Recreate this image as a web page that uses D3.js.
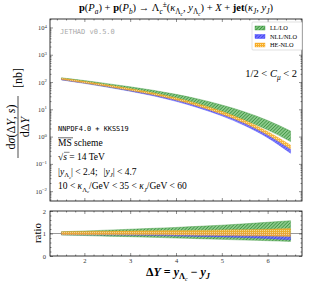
<!DOCTYPE html>
<html lang="en">
<head>
<meta charset="UTF-8">
<title>Lambda_c + jet rapidity distance</title>
<script src="https://d3js.org/d3.v7.min.js"></script>
<style>
  body { margin: 0; padding: 0; background: #fff; }
  svg { display: block; }
  text { font-family: "Liberation Serif", "DejaVu Serif", serif; fill: #000; }
  .tick text { font-size: 6.5px; fill: #333; }
</style>
</head>
<body>
<svg id="chart" width="309" height="282"></svg>
<script>
// data
const deltaY = [1.5, 2, 2.5, 3, 3.5, 4, 4.5, 5, 5.5, 6, 6.5];

// central values [nb]
const llCentral  = [132, 102, 76, 56, 40.5, 27.8, 17.8, 10.5, 5.6, 2.6, 1.02];
const nllCentral = [126, 95, 70, 50, 34.5, 22.1, 12.9, 6.8, 3.1, 1.17, 0.34];
const heCentral  = [129, 97, 72, 52, 36, 23.4, 13.8, 7.3, 3.4, 1.29, 0.40];

// scale-variation bands, as ratio to central value
const llRatioHi  = [1.08, 1.11, 1.15, 1.19, 1.23, 1.27, 1.32, 1.37, 1.43, 1.50, 1.57];
const llRatioLo  = [0.93, 0.91, 0.88, 0.86, 0.83, 0.80, 0.77, 0.74, 0.71, 0.68, 0.65];
const nllRatioHi = [1.05, 1.05, 1.05, 1.04, 1.04, 1.04, 1.03, 1.03, 1.03, 1.02, 1.02];
const nllRatioLo = [0.95, 0.94, 0.93, 0.92, 0.91, 0.89, 0.87, 0.85, 0.82, 0.78, 0.72];
const heRatioHi  = [1.08, 1.09, 1.10, 1.11, 1.12, 1.13, 1.14, 1.16, 1.17, 1.19, 1.22];
const heRatioLo  = [0.95, 0.95, 0.95, 0.94, 0.94, 0.93, 0.92, 0.91, 0.90, 0.89, 0.87];

const xTicks = [2, 3, 4, 5, 6];
const yTickExps = [-2, -1, 0, 1, 2, 3, 4];
const ratioTicks = [0, 1, 2];
const legendLabels = ["LL/LO", "NLL/NLO", "HE-NLO"];

const svg = d3.select("#chart");

// layout
const L = 50, R = 302;
const mainTop = 19, mainBot = 201;
const ratTop = 211, ratBot = 256;

const x = d3.scaleLinear().domain([1.25, 6.75]).range([L, R]);
const y = d3.scaleLog().domain([Math.pow(10, -2.36), Math.pow(10, 4.31)]).range([mainBot, mainTop]);
const yr = d3.scaleLinear().domain([0, 2]).range([ratBot, ratTop]);

// patterns for the hatched bands
const defs = svg.append("defs");
function hatch(id, bg, fg, w) {
  const p = defs.append("pattern").attr("id", id)
    .attr("patternUnits", "userSpaceOnUse").attr("width", 2.4).attr("height", 2.4)
    .attr("patternTransform", "rotate(45)");
  p.append("rect").attr("width", 2.4).attr("height", 2.4).attr("fill", bg);
  p.append("line").attr("x1", 0).attr("y1", 0).attr("x2", 0).attr("y2", 2.4)
    .attr("stroke", fg).attr("stroke-width", w);
}
hatch("pGreen", "#86c886", "#17781b", 1.1);
hatch("pBlue", "#7272ff", "#2424e0", 1.0);
const po = defs.append("pattern").attr("id", "pOrange")
  .attr("patternUnits", "userSpaceOnUse").attr("width", 2).attr("height", 2);
po.append("rect").attr("width", 2).attr("height", 2).attr("fill", "#f7ae2a");
po.append("rect").attr("width", 1).attr("height", 1).attr("fill", "#ffe09a");

const series = [
  { name: legendLabels[0], c: llCentral, hi: llRatioHi, lo: llRatioLo, fill: "url(#pGreen)", edge: "#2f8f2f", op: 0.95 },
  { name: legendLabels[1], c: nllCentral, hi: nllRatioHi, lo: nllRatioLo, fill: "url(#pBlue)", edge: "#3a3aff", op: 0.9 },
  { name: legendLabels[2], c: heCentral, hi: heRatioHi, lo: heRatioLo, fill: "url(#pOrange)", edge: "#f5a623", op: 0.9 }
];

// main panel bands
series.forEach(s => {
  const pts = deltaY.map((d, i) => ({ x: d, lo: s.c[i] * s.lo[i], hi: s.c[i] * s.hi[i] }));
  const area = d3.area().curve(d3.curveMonotoneX)
    .x(d => x(d.x)).y0(d => y(d.lo)).y1(d => y(d.hi));
  svg.append("path").datum(pts).attr("d", area)
    .attr("fill", s.fill).attr("stroke", s.edge).attr("stroke-width", 0.4).attr("opacity", s.op);
});

// ratio panel
svg.append("line").attr("x1", L).attr("x2", R).attr("y1", yr(1)).attr("y2", yr(1))
  .attr("stroke", "#9a9a9a").attr("stroke-width", 1);
series.forEach(s => {
  const pts = deltaY.map((d, i) => ({ x: d, lo: s.lo[i], hi: s.hi[i] }));
  const area = d3.area().curve(d3.curveMonotoneX)
    .x(d => x(d.x)).y0(d => yr(d.lo)).y1(d => yr(d.hi));
  svg.append("path").datum(pts).attr("d", area)
    .attr("fill", s.fill).attr("stroke", s.edge).attr("stroke-width", 0.4).attr("opacity", s.op);
});

// axes with inward ticks on every side
const xMinor = d3.range(1.4, 6.75, 0.2).filter(v => Math.abs(v - Math.round(v)) > 0.01);
const yMinor = [];
for (let e = -3; e <= 4; e++) for (let k = 2; k <= 9; k++) {
  const v = k * Math.pow(10, e);
  if (v > y.domain()[0] && v < y.domain()[1]) yMinor.push(v);
}
const rMinor = d3.range(0.2, 2, 0.2).filter(v => Math.abs(v - 1) > 0.01);

function xAxes(top, bot, labels) {
  svg.append("g").attr("transform", `translate(0,${bot})`)
    .call(d3.axisBottom(x).tickValues(xTicks).tickSize(-3).tickPadding(2)
      .tickFormat(labels ? d3.format("d") : ""));
  svg.append("g").attr("transform", `translate(0,${bot})`)
    .call(d3.axisBottom(x).tickValues(xMinor).tickSize(-1.5).tickFormat(""));
  svg.append("g").attr("transform", `translate(0,${top})`)
    .call(d3.axisTop(x).tickValues(xTicks).tickSize(-3).tickFormat(""));
  svg.append("g").attr("transform", `translate(0,${top})`)
    .call(d3.axisTop(x).tickValues(xMinor).tickSize(-1.5).tickFormat(""));
}
xAxes(mainTop, mainBot, false);
xAxes(ratTop, ratBot, true);

const yAx = svg.append("g").attr("transform", `translate(${L},0)`)
  .call(d3.axisLeft(y).tickValues(yTickExps.map(e => Math.pow(10, e))).tickSize(-3).tickPadding(3)
    .tickFormat(""));
yAx.selectAll(".tick text").each(function(d) {
  const t = d3.select(this);
  const e = Math.round(Math.log10(d));
  t.append("tspan").text("10");
  t.append("tspan").attr("dy", -2.5).attr("font-size", 4.8).text(e < 0 ? "\u2212" + (-e) : e);
});
svg.append("g").attr("transform", `translate(${L},0)`)
  .call(d3.axisLeft(y).tickValues(yMinor).tickSize(-1.5).tickFormat(""));
svg.append("g").attr("transform", `translate(${R},0)`)
  .call(d3.axisRight(y).tickValues(yTickExps.map(e => Math.pow(10, e))).tickSize(-3).tickFormat(""));
svg.append("g").attr("transform", `translate(${R},0)`)
  .call(d3.axisRight(y).tickValues(yMinor).tickSize(-1.5).tickFormat(""));

svg.append("g").attr("transform", `translate(${L},0)`)
  .call(d3.axisLeft(yr).tickValues(ratioTicks).tickSize(-3).tickPadding(4).tickFormat(d3.format("d")));
svg.append("g").attr("transform", `translate(${L},0)`)
  .call(d3.axisLeft(yr).tickValues(rMinor).tickSize(-1.5).tickFormat(""));
svg.append("g").attr("transform", `translate(${R},0)`)
  .call(d3.axisRight(yr).tickValues(ratioTicks).tickSize(-3).tickFormat(""));
svg.append("g").attr("transform", `translate(${R},0)`)
  .call(d3.axisRight(yr).tickValues(rMinor).tickSize(-1.5).tickFormat(""));

svg.selectAll(".domain").remove();
svg.selectAll(".tick line").attr("stroke", "#222").attr("stroke-width", 0.5);

// frames
[[mainTop, mainBot], [ratTop, ratBot]].forEach(([t, b]) => {
  svg.append("rect").attr("x", L).attr("y", t).attr("width", R - L).attr("height", b - t)
    .attr("fill", "none").attr("stroke", "#000").attr("stroke-width", 0.8);
});

// rich text helper: segments [text, {i, b, sub, sup, dx}]
function rich(g, segs, size) {
  let cur = 0;
  segs.forEach(([txt, o = {}]) => {
    const shift = o.sub === 2 ? size * 0.45 : o.sub ? size * 0.28 : o.sup ? -size * 0.4 : 0;
    const fs = (o.sub || o.sup) ? size * (o.sub === 2 ? 0.5 : 0.7) : size;
    const ts = g.append("tspan").attr("dy", shift - cur).attr("font-size", fs)
      .attr("font-style", o.i ? "italic" : "normal")
      .attr("font-weight", o.b ? "bold" : "normal").text(txt);
    if (o.dx) ts.attr("dx", o.dx);
    cur = shift;
  });
  return g;
}

// title
rich(svg.append("text").attr("x", 176).attr("y", 11).attr("text-anchor", "middle"), [
  ["p", { b: 1 }], ["("], ["P", { i: 1 }], ["a", { i: 1, sub: 1 }], [") + "],
  ["p", { b: 1 }], ["("], ["P", { i: 1 }], ["b", { i: 1, sub: 1 }], [") \u2192 \u039b"],
  ["c", { i: 1, sub: 1 }], ["\u00b1", { sup: 1 }], ["("], ["\u03ba", { i: 1 }],
  ["\u039b", { sub: 1 }], ["c", { i: 1, sub: 2 }], [", "], ["y", { i: 1 }], ["\u039b", { sub: 1 }],
  ["c", { i: 1, sub: 2 }], [") + "], ["X", { i: 1 }], [" + "], ["jet", { b: 1 }], ["("],
  ["\u03ba", { i: 1 }], ["J", { i: 1, sub: 1 }], [", "], ["y", { i: 1 }], ["J", { i: 1, sub: 1 }], [")"]
], 10.5);

// version tag
svg.append("text").attr("x", 60).attr("y", 34)
  .style("font-family", "'DejaVu Sans Mono', monospace").style("font-size", "7px")
  .style("fill", "#aaa").text("JETHAD v0.5.0");

// legend
const lg = svg.append("g");
lg.append("rect").attr("x", 252).attr("y", 22).attr("width", 50).attr("height", 28)
  .attr("fill", "#fff").attr("stroke", "#ccc").attr("stroke-width", 0.6).attr("rx", 1);
series.forEach((s, i) => {
  const yy = 28 + i * 8.5;
  lg.append("rect").attr("x", 255).attr("y", yy - 2).attr("width", 10).attr("height", 4)
    .attr("fill", s.fill).attr("stroke", s.edge).attr("stroke-width", 0.4);
  lg.append("text").attr("x", 270).attr("y", yy + 2).style("font-size", "6.3px").text(s.name);
});

// scale range
rich(svg.append("text").attr("x", 297).attr("y", 77).attr("text-anchor", "end"), [
  ["1/2 < "], ["C", { i: 1 }], ["\u03bc", { i: 1, sub: 1 }], [" < 2"]
], 10.5);

// kinematic notes
const notes = svg.append("g");
notes.append("text").attr("x", 58).attr("y", 131)
  .style("font-family", "'DejaVu Sans Mono', monospace").style("font-size", "6.9px")
  .text("NNPDF4.0 + KKSS19");
notes.append("text").attr("x", 58).attr("y", 145.5).style("font-size", "9.5px").text("MS scheme");
notes.append("line").attr("x1", 58).attr("x2", 73).attr("y1", 137.8).attr("y2", 137.8)
  .attr("stroke", "#000").attr("stroke-width", 0.6);
rich(notes.append("text").attr("x", 58).attr("y", 160), [
  ["\u221a"], ["s", { i: 1 }], [" = 14 TeV"]
], 9.5);
notes.append("line").attr("x1", 64).attr("x2", 69.5).attr("y1", 152.3).attr("y2", 152.3)
  .attr("stroke", "#000").attr("stroke-width", 0.5);
rich(notes.append("text").attr("x", 58).attr("y", 174.5), [
  ["|"], ["y", { i: 1 }], ["\u039b", { sub: 1 }], ["c", { i: 1, sub: 2 }], ["| < 2.4;"],
  ["|", { dx: 6 }], ["y", { i: 1 }], ["J", { i: 1, sub: 1 }], ["| < 4.7"]
], 9.5);
rich(notes.append("text").attr("x", 58).attr("y", 189), [
  ["10 < "], ["\u03ba", { i: 1 }], ["\u039b", { sub: 1 }], ["c", { i: 1, sub: 2 }], ["/GeV < 35 < "],
  ["\u03ba", { i: 1 }], ["J", { i: 1, sub: 1 }], ["/GeV < 60"]
], 9.5);

// y label: fraction
const yl = svg.append("g").attr("transform", "translate(18,127) rotate(-90)");
rich(yl.append("text").attr("x", 0).attr("y", -3.5).attr("text-anchor", "middle"), [
  ["d"], ["\u03c3", { i: 1 }], ["(\u0394"], ["Y", { i: 1 }], [", "], ["s", { i: 1 }], [")"]
], 12);
yl.append("line").attr("x1", -31).attr("x2", 31).attr("y1", 0).attr("y2", 0)
  .attr("stroke", "#000").attr("stroke-width", 0.7);
rich(yl.append("text").attr("x", 0).attr("y", 10.5).attr("text-anchor", "middle"), [
  ["d\u0394"], ["Y", { i: 1 }]
], 12);
yl.append("text").attr("x", 49).attr("y", 4).attr("text-anchor", "middle")
  .style("font-size", "12px").text("[nb]");

// ratio label
svg.append("text").attr("transform", "translate(41,233) rotate(-90)")
  .attr("text-anchor", "middle").style("font-size", "11px").text("ratio");

// x label
rich(svg.append("text").attr("x", 178).attr("y", 276).attr("text-anchor", "middle")
  .attr("font-weight", "bold"), [
  ["\u0394", { b: 1 }], ["Y", { i: 1, b: 1 }], [" = ", { b: 1 }], ["y", { i: 1, b: 1 }],
  ["\u039b", { sub: 1, b: 1 }], ["c", { i: 1, sub: 2 }], [" \u2212 ", { b: 1 }], ["y", { i: 1, b: 1 }],
  ["J", { i: 1, sub: 1, b: 1 }]
], 12);
</script>
</body>
</html>
